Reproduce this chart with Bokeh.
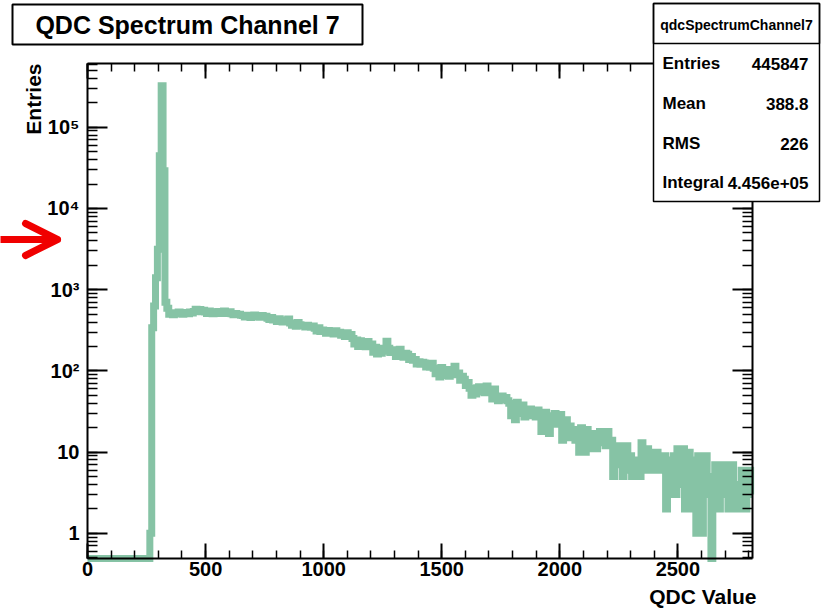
import math

from bokeh.embed import file_html
from bokeh.models import (Arrow, BoxAnnotation, Label, LinearAxis, LogAxis,
                          LogTicker, OpenHead, Range1d, SingleIntervalTicker)
from bokeh.plotting import figure
from bokeh.resources import INLINE

# ---------------------------------------------------------------------------
# QDC spectrum, channel 7: counts per 8-channel bin, starting at QDC = 0
# ---------------------------------------------------------------------------
BIN_WIDTH = 8

below_threshold = [0, 0, 0, 0, 0, 0, 0, 0, 0, 0, 0, 0, 0, 0, 0, 0, 0,
                   0, 0, 0, 0, 0, 0, 0, 0, 0, 0, 0, 0, 0, 0, 0, 0]
pedestal = [1, 340, 630, 1400, 3150, 44600, 325000, 29200, 700, 590,
            500, 520, 490]
plateau = [520, 505, 530, 510, 500, 525, 515, 505, 530, 515,
           540, 575, 550, 570, 535, 560,
           530, 510, 545, 520, 505, 535, 515, 540, 510, 525, 545, 510, 520, 535,
           505, 490, 510, 495, 500, 485,
           480, 460, 485, 470, 455, 475, 488, 465, 470, 458, 480, 462, 470,
           445, 430, 455, 425,
           430, 405, 440, 415, 400, 425, 410, 435]
shoulder = [390, 365, 380, 355, 395, 370, 360,
            360, 348, 365, 352, 345, 358,
            335, 310, 340, 305, 320,
            310, 290, 315, 295, 300, 285, 312, 295,
            300, 275, 290, 265, 295, 270, 280,
            250, 215, 240, 200,
            235, 205, 225, 198, 230, 210,
            215, 170, 195, 162,
            190, 165, 175,
            185, 232, 190, 168, 182,
            180, 150, 172, 185, 155, 147, 165,
            160, 138, 150, 135,
            138, 122, 130, 121, 128,
            125, 112, 118, 111, 124]
falloff = [108, 92, 100, 84, 110, 95, 88, 104, 86, 98, 90,
           114, 90,
           94, 77, 86,
           79, 66, 72,
           61, 50, 57, 52, 62,
           64, 55, 60, 54, 65, 58,
           56, 45, 60,
           48, 43, 46, 49, 44, 47, 43,
           40, 28, 34, 25, 41, 30, 36,
           38, 27, 33, 29,
           34, 28, 31, 27, 33,
           30, 18, 25, 31, 20, 17, 28, 22,
           30, 22, 26,
           29, 14, 21,
           25, 15]
tail = [21, 16, 19, 14, 17,
        10, 20, 13, 10, 19, 14, 11, 17,
        16, 11, 14,
        18, 13, 16, 12, 18, 14,
        14, 5, 9, 12,
        12, 7, 5, 10, 12, 6, 9, 5,
        8, 5, 7, 5,
        13, 9, 6, 11, 8,
        10, 6, 8, 10, 7, 6, 9,
        9, 2, 5, 8, 3,
        9, 3, 11, 6, 4,
        11, 2, 7, 10,
        8, 2, 5, 1,
        9, 4, 1, 6, 9, 3,
        5, 0,
        2, 7, 4, 2, 7, 5,
        3, 7, 2, 5, 7,
        4, 2, 3,
        2, 6, 4, 2, 5, 6, 3]

counts = below_threshold + pedestal + plateau + shoulder + falloff + tail

y_tick_values = [1, 10, 100, 1000, 10000, 100000]
y_tick_labels = ["1", "10", "10\u00b2", "10\u00b3", "10\u2074", "10\u2075"]

hist_name = "qdcSpectrumChannel7"
stats_labels = ["Entries", "Mean", "RMS", "Integral"]
stats_values = ["445847", "388.8", "226", "4.456e+05"]

# ---------------------------------------------------------------------------
# layout: the plotting frame fills the whole canvas; the histogram pad
# (axes box) occupies the pixel rectangle FRAME_L..FRAME_R x FRAME_T..FRAME_B
# ---------------------------------------------------------------------------
W, H = 827, 613
FRAME_L, FRAME_R, FRAME_T, FRAME_B = 87, 752, 63, 558
X_MIN, X_MAX = 0, 2816
Y_MIN, Y_MAX = 0.49, 6.1e5
FONT = "Liberation Sans"
HIST_COLOR = "#86c3a5"
RED = "#f00000"


def data_x(px):
    """Canvas pixel column -> QDC value (linear x scale)."""
    return X_MIN + (px - FRAME_L) / (FRAME_R - FRAME_L) * (X_MAX - X_MIN)


def data_y(py):
    """Canvas pixel row -> entries (log y scale)."""
    lo, hi = math.log10(Y_MIN), math.log10(Y_MAX)
    return 10 ** (lo + (FRAME_B - py) / (FRAME_B - FRAME_T) * (hi - lo))


p = figure(width=W, height=H,
           x_range=Range1d(data_x(0), data_x(W)),
           y_range=Range1d(data_y(H), data_y(0)),
           y_axis_type="log", x_axis_location=None, y_axis_location=None,
           output_backend="svg", toolbar_location=None,
           min_border=0)
p.title.visible = False
p.outline_line_color = None
p.background_fill_color = "white"
p.border_fill_color = "white"
p.grid.visible = False

# histogram outline: empty bins sit on the lower edge of the log axis
xs, ys = [], []
for i, c in enumerate(counts):
    lo = i * BIN_WIDTH
    level = c if c > 0 else Y_MIN
    xs += [lo, lo + BIN_WIDTH]
    ys += [level, level]
p.line(xs, ys, line_color=HIST_COLOR, line_width=7,
       line_join="miter", line_cap="butt")


def style_axis(ax, major_len, minor_len, labels=True):
    ax.major_tick_in = major_len
    ax.major_tick_out = 0
    ax.minor_tick_in = minor_len
    ax.minor_tick_out = 0
    ax.axis_line_width = 2
    ax.major_tick_line_width = 2
    ax.minor_tick_line_width = 1.5
    ax.axis_line_color = "black"
    ax.major_tick_line_color = "black"
    ax.minor_tick_line_color = "black"
    ax.major_label_text_font = FONT
    ax.major_label_text_font_style = "bold"
    ax.major_label_text_font_size = "20px"
    ax.major_label_text_color = "black" if labels else None


def x_ticker():
    return SingleIntervalTicker(interval=500, num_minor_ticks=5)


def y_ticker():
    return LogTicker(num_minor_ticks=10)


bottom_axis = LinearAxis(ticker=x_ticker(), fixed_location=Y_MIN,
                         bounds=(X_MIN, X_MAX))
style_axis(bottom_axis, 15, 8)
bottom_axis.major_label_standoff = 3
p.add_layout(bottom_axis, "below")

top_axis = LinearAxis(ticker=x_ticker(), fixed_location=Y_MAX,
                      bounds=(X_MIN, X_MAX))
style_axis(top_axis, 15, 8, labels=False)
p.add_layout(top_axis, "above")

left_axis = LogAxis(ticker=y_ticker(), fixed_location=X_MIN,
                    bounds=(Y_MIN, Y_MAX))
style_axis(left_axis, 20, 10)
left_axis.major_label_standoff = 8
left_axis.major_label_overrides = dict(zip(y_tick_values, y_tick_labels))
p.add_layout(left_axis, "left")

right_axis = LogAxis(ticker=y_ticker(), fixed_location=X_MAX,
                     bounds=(Y_MIN, Y_MAX))
style_axis(right_axis, 20, 10, labels=False)
p.add_layout(right_axis, "right")

# grids come back with the axes; keep the pad clean
for g in p.grid:
    g.visible = False

# axis titles, right-aligned to the axis ends
p.add_layout(Label(x=data_x(756), y=data_y(596), text="QDC Value",
                   text_align="right", text_baseline="alphabetic",
                   text_font=FONT, text_font_style="bold",
                   text_font_size="21px", text_color="black"))
p.add_layout(Label(x=data_x(32.5), y=data_y(FRAME_T), text="Entries",
                   angle=math.pi / 2, text_align="right",
                   text_baseline="alphabetic", text_font=FONT,
                   text_font_style="bold", text_font_size="21px",
                   text_color="black"))

# title box
p.add_layout(BoxAnnotation(left=data_x(12), right=data_x(362),
                           top=data_y(4), bottom=data_y(44),
                           fill_color="white", fill_alpha=1.0,
                           line_color="black", line_alpha=1.0, line_width=2))
p.add_layout(Label(x=data_x(187), y=data_y(24.5),
                   text="QDC Spectrum Channel 7",
                   text_align="center", text_baseline="middle",
                   text_font=FONT, text_font_style="bold",
                   text_font_size="25px", text_color="black"))

# statistics box
p.add_layout(BoxAnnotation(left=data_x(653), right=data_x(819),
                           top=data_y(3), bottom=data_y(201),
                           fill_color="white", fill_alpha=1.0,
                           line_color="black", line_alpha=1.0,
                           line_width=1.5))
p.add_layout(BoxAnnotation(left=data_x(653), right=data_x(819),
                           top=data_y(3), bottom=data_y(43),
                           fill_color=None, line_color="black",
                           line_alpha=1.0, line_width=1.5))
p.add_layout(Label(x=data_x(736), y=data_y(24), text=hist_name,
                   text_align="center", text_baseline="middle",
                   text_font=FONT, text_font_style="bold",
                   text_font_size="14px", text_color="black"))
row_y = [63, 103, 143, 182]
for name, val, ry in zip(stats_labels, stats_values, row_y):
    p.add_layout(Label(x=data_x(662), y=data_y(ry), text=name,
                       text_align="left", text_baseline="middle",
                       text_font=FONT, text_font_style="bold",
                       text_font_size="17px", text_color="black"))
    p.add_layout(Label(x=data_x(808), y=data_y(ry), text=val,
                       text_align="right", text_baseline="middle",
                       text_font=FONT, text_font_style="bold",
                       text_font_size="17px", text_color="black"))

# red marker arrow next to the y axis
p.add_layout(Arrow(end=OpenHead(size=32, line_color=RED, line_width=7,
                                line_cap="round", line_join="round"),
                   x_start=data_x(-6), y_start=data_y(239),
                   x_end=data_x(57), y_end=data_y(239),
                   line_color=RED, line_width=7, line_cap="round"))

open("out.html", "w").write(file_html(p, INLINE))
